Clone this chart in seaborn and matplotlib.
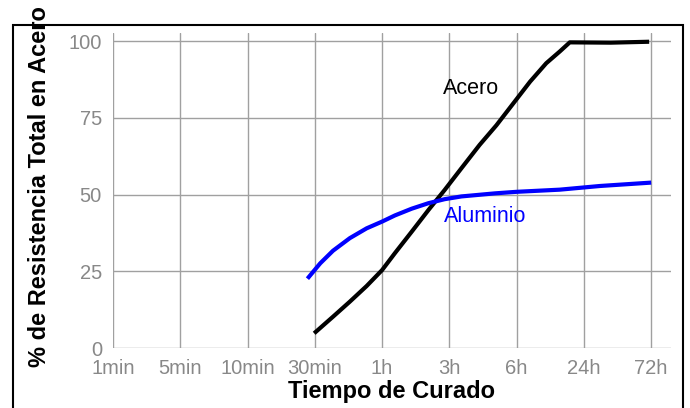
import pandas as pd
import matplotlib.pyplot as plt
import matplotlib.patches as patches
import seaborn as sns

# tick labels for the curing time axis (evenly spaced categories)
tiempos = ['1min', '5min', '10min', '30min', '1h', '3h', '6h', '24h', '72h']

# curves, x given in category-index units
acero_x = [2.99, 3.27, 3.52, 3.77, 4.0, 4.19, 4.44, 4.69, 4.93, 5.18, 5.45, 5.70, 5.95, 6.20, 6.44, 6.64, 6.79, 7.4, 7.97]
acero_y = [4.8, 10.2, 15.1, 20.2, 25.4, 30.9, 37.9, 45.0, 51.5, 58.6, 66.2, 72.6, 79.7, 86.8, 92.8, 96.6, 99.6, 99.5, 99.8]

alum_x = [2.89, 3.08, 3.27, 3.52, 3.77, 4.0, 4.19, 4.44, 4.69, 4.93, 5.18, 5.68, 6.0, 6.64, 7.24, 8.0]
alum_y = [22.6, 27.6, 31.7, 35.8, 39.0, 41.2, 43.2, 45.4, 47.2, 48.5, 49.4, 50.4, 50.9, 51.6, 52.8, 53.9]

df = pd.concat([
    pd.DataFrame({'x': acero_x, 'y': acero_y, 'material': 'Acero'}),
    pd.DataFrame({'x': alum_x, 'y': alum_y, 'material': 'Aluminio'}),
])

sns.set_style('white')
plt.rcParams['font.family'] = ['Liberation Sans', 'DejaVu Sans']

fig = plt.figure(figsize=(6.9, 4.08), dpi=100)
ax = fig.add_axes([0.1638, 0.147, 0.8082, 0.771])

sns.lineplot(data=df, x='x', y='y', hue='material', palette={'Acero': 'black', 'Aluminio': 'blue'},
             linewidth=3, legend=False, sort=False, estimator=None, ax=ax,
             solid_capstyle='butt', solid_joinstyle='round')

ax.set_xlim(0, 8.29)
ax.set_ylim(0, 102.5)
ax.set_xticks(range(len(tiempos)))
ax.set_xticklabels(tiempos)
ax.set_yticks([0, 25, 50, 75, 100])
ax.grid(True, color='#a0a0a0', linewidth=1)
ax.set_axisbelow(True)
for s in ax.spines.values():
    s.set_visible(False)
ax.tick_params(axis='both', colors='#a0a0a0', labelcolor='#888888', labelsize=14.5,
               length=5, width=1, direction='out', pad=3)

ax.set_xlabel('Tiempo de Curado', fontsize=17, fontweight='bold', color='black')
ax.set_ylabel('% de Resistencia Total en Acero', fontsize=17, fontweight='bold', color='black')
ax.xaxis.set_label_coords(0.5, -0.137)
ax.xaxis.label.set_verticalalignment('center')
ax.yaxis.set_label_coords(-0.131, 0.512)
ax.yaxis.label.set_verticalalignment('center')

ax.text(4.9, 84.7, 'Acero', color='black', fontsize=15.5, ha='left', va='center')
ax.text(4.92, 42.7, 'Aluminio', color='blue', fontsize=15.5, ha='left', va='center')

# black frame around the chart (bottom edge falls outside the image)
fig.patches.append(patches.Rectangle((12.5 / 690, -0.05), (683 - 12.5) / 690, 1.05 - 25 / 408,
                                     transform=fig.transFigure, fill=False, edgecolor='black',
                                     linewidth=1.5, zorder=0))

fig.savefig('out.png', dpi=100)
